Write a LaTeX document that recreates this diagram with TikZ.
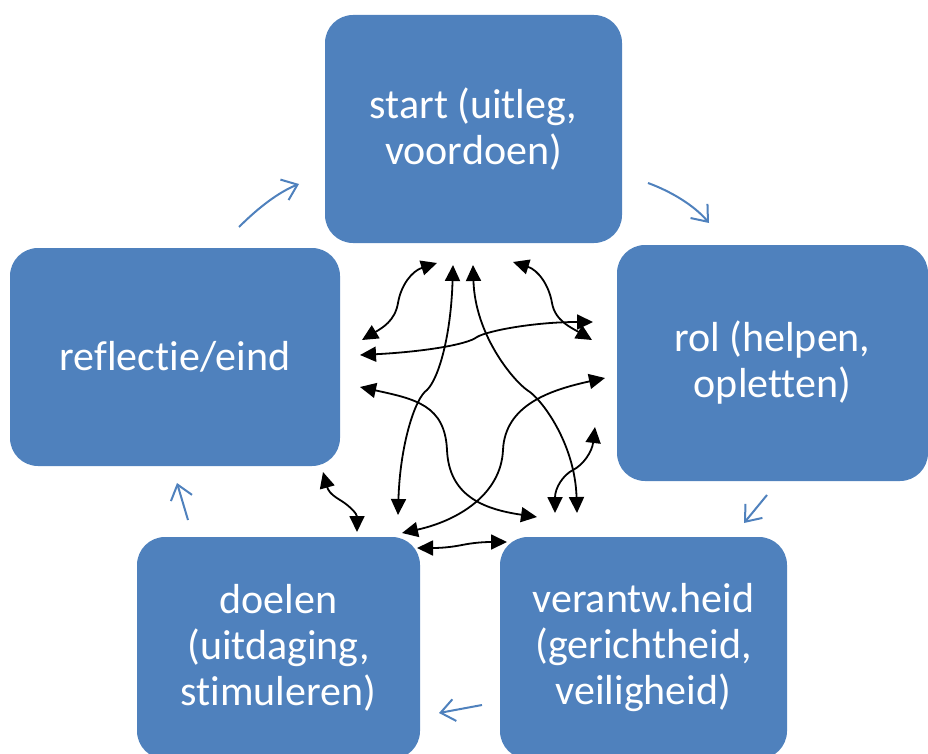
\documentclass[tikz,border=0pt]{standalone}
\usepackage{fontspec}
\setmainfont{Carlito}[Ligatures={NoCommon}]
\usetikzlibrary{arrows.meta}

\definecolor{boxblue}{HTML}{4F81BD}

\begin{document}
\begin{tikzpicture}[x=1pt,y=-1pt,
    stage/.style={rectangle,rounded corners=28pt,fill=boxblue,text=white,align=center,
      font=\fontsize{42}{46}\selectfont,inner sep=0pt},
    link/.style={{Triangle[length=16pt,width=15pt]}-{Triangle[length=16pt,width=15pt]},line width=1.8pt},
    flow/.style={-{Straight Barb[length=14pt,width=22pt,line width=2pt]},boxblue,line width=2pt}]
  \useasboundingbox (0,0) rectangle (928,754);

  % the five stages
  \node[stage,minimum width=297pt,minimum height=228pt] (start) at (473.5,129) {start (uitleg,\\voordoen)};
  \node[stage,minimum width=311pt,minimum height=236pt] (rol) at (772.5,363) {rol (helpen,\\opletten)};
  \node[stage,minimum width=287pt,minimum height=222pt] (verantw) at (643.5,648) {verantw.heid\\(gerichtheid,\\veiligheid)};
  \node[stage,minimum width=283pt,minimum height=222pt] (doelen) at (278.5,648) {doelen\\(uitdaging,\\stimuleren)};
  \node[stage,minimum width=330pt,minimum height=218pt] (reflectie) at (175,357) {reflectie/eind};

  % cycle arrows
  \coordinate (c1a) at (239,227); \coordinate (c1b) at (299,184);
  \coordinate (c2a) at (648,183); \coordinate (c2b) at (709,223);
  \coordinate (c3a) at (767,495); \coordinate (c3b) at (744,523);
  \coordinate (c4a) at (482,705); \coordinate (c4b) at (439,713);
  \coordinate (c5a) at (188,520); \coordinate (c5b) at (177,483);
  \draw[flow] (c1a) .. controls +(20,-20) and +(-20,8) .. (c1b);
  \draw[flow] (c2a) .. controls +(22,8) and +(-15,-18) .. (c2b);
  \draw[flow] (c3a) -- (c3b);
  \draw[flow] (c4a) -- (c4b);
  \draw[flow] (c5a) -- (c5b);

  % links in the middle
  \coordinate (a1) at (437,263); \coordinate (a2) at (362,340);
  \coordinate (b1) at (453,265); \coordinate (b2) at (398,515);
  \coordinate (d1) at (473,265); \coordinate (d2) at (577,513);
  \coordinate (e1) at (513,262); \coordinate (e2) at (592,340);
  \coordinate (f1) at (593,322); \coordinate (f2) at (360,355);
  \coordinate (g1) at (360,387); \coordinate (g2) at (537,517);
  \coordinate (h1) at (605,378); \coordinate (h2) at (402,533);
  \coordinate (k1) at (595,427); \coordinate (k2) at (555,513);
  \coordinate (m1) at (417,548); \coordinate (m2) at (507,542);
  \coordinate (n1) at (323,472); \coordinate (n2) at (357,532);
  \draw[link] (a1) .. controls +(-25,8) and +(3,-18) .. (398,303) .. controls +(-3,18) and +(20,-12) .. (a2);
  \draw[link] (b1) .. controls +(-2,70) and +(12,-12) .. (427,390) .. controls +(-12,8) and +(2,-70) .. (b2);
  \draw[link] (d1) .. controls +(2,70) and +(-14,-10) .. (527,390) .. controls +(14,8) and +(-2,-70) .. (d2);
  \draw[link] (e1) .. controls +(25,8) and +(-3,-18) .. (552,303) .. controls +(3,18) and +(-20,-12) .. (e2);
  \draw[link] (f1) .. controls +(-60,0) and +(10,-6) .. (477,337) .. controls +(-10,8) and +(60,-3) .. (f2);
  \draw[link] (g1) .. controls +(55,12) and +(-2,-45) .. (447,450) .. controls +(2,45) and +(-55,-8) .. (g2);
  \draw[link] (h1) .. controls +(-55,12) and +(2,-45) .. (503,450) .. controls +(-2,45) and +(55,-12) .. (h2);
  \draw[link] (k1) .. controls +(-3,25) and +(10,-5) .. (573,470) .. controls +(-10,5) and +(0,-25) .. (k2);
  \draw[link] (m1) .. controls +(25,0) and +(-10,2) .. (462,545) .. controls +(10,-2) and +(-25,0) .. (m2);
  \draw[link] (n1) .. controls +(5,18) and +(-10,-6) .. (340,500) .. controls +(10,6) and +(0,-18) .. (n2);
\end{tikzpicture}
\end{document}
